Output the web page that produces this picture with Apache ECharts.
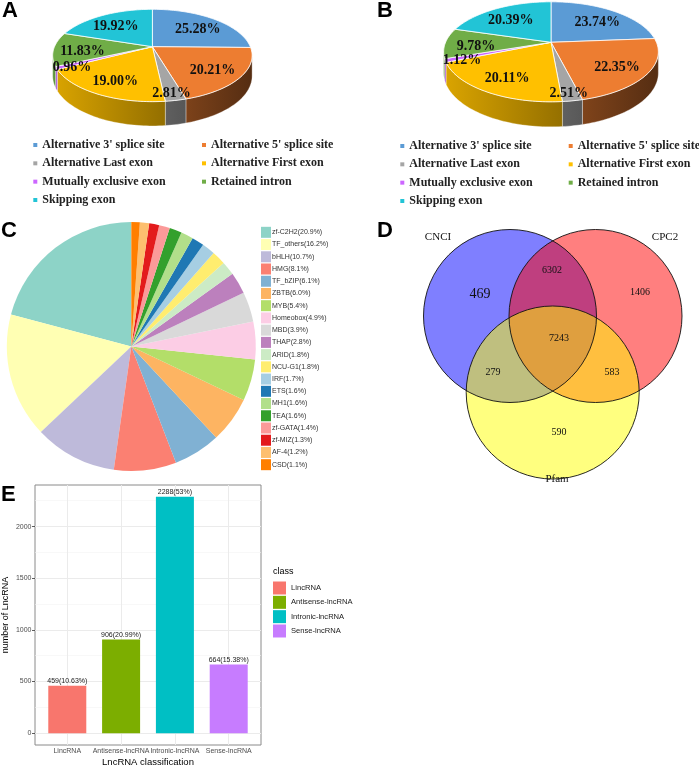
<!DOCTYPE html>
<html><head><meta charset="utf-8">
<script src="https://cdn.jsdelivr.net/npm/echarts@6/dist/echarts.min.js"></script>
<style>html,body{margin:0;padding:0;background:#fff}#c{width:699px;height:769px}</style>
</head><body><div id="c"></div>
<script>
// ---------------- data ----------------
const spliceTypes = ["Alternative 3' splice site","Alternative 5' splice site","Alternative Last exon","Alternative First exon","Mutually exclusive exon","Retained intron","Skipping exon"];
const pieAValues = [25.28, 20.21, 2.81, 19.00, 0.96, 11.83, 19.92];
const pieBValues = [23.74, 22.35, 2.51, 20.11, 1.12, 9.78, 20.39];

const tfFamilies = ['zf-C2H2','TF_others','bHLH','HMG','TF_bZIP','ZBTB','MYB','Homeobox','MBD','THAP','ARID','NCU-G1','IRF','ETS','MH1','TEA','zf-GATA','zf-MIZ','AF-4','CSD'];
const tfPercents = [20.9,16.2,10.7,8.1,6.1,6.0,5.4,4.9,3.9,2.8,1.8,1.8,1.7,1.6,1.6,1.6,1.4,1.3,1.2,1.1];

const vennSets = ['CNCI','CPC2','Pfam'];
const vennRegions = ['CNCI','CNCI&CPC2','CPC2','CNCI&CPC2&Pfam','CNCI&Pfam','CPC2&Pfam','Pfam'];
const vennCounts = [469, 6302, 1406, 7243, 279, 583, 590];

const lncClasses = ['LincRNA','Antisense-lncRNA','Intronic-lncRNA','Sense-lncRNA'];
const lncCounts = [459, 906, 2288, 664];
const lncPercents = ['10.63%','20.99%','53%','15.38%'];
const lncYTicks = [0, 500, 1000, 1500, 2000];
const lncYMinor = [250, 750, 1250, 1750, 2250];
const lncXPos = [1, 2, 3, 4];

// ---------------- styles / layout ----------------
const pieColors = ['#5B9BD5','#ED7D31','#A5A5A5','#FFC000','#CC66FF','#70AD47','#22C4D6'];
const tfColors = ['#8DD3C7','#FFFFB3','#BEBADA','#FB8072','#80B1D3','#FDB462','#B3DE69','#FCCDE5','#D9D9D9','#BC80BD','#CCEBC5','#FFED6F','#A6CEE3','#1F78B4','#B2DF8A','#33A02C','#FB9A99','#E31A1C','#FDBF6F','#FF7F00'];
const lncColors = ['#F8766D','#7CAE00','#00BFC4','#C77CFF'];
const geoA = {cx:152.4, yc:46.7, rx:97.9, ry:44.5, k:0.19, d:19.7};
const geoB = {cx:551, yc:42.3, rx:105.4, ry:48.2, k:0.19, d:20.3};
const vennLayout = {
  centers: [[510,316],[595.5,316],[552.7,392.5]], r: 86.5,
  fills: ['rgba(0,0,255,0.5)','rgba(255,0,0,0.5)','rgba(255,255,0,0.5)'],
  nameAt: [[438,237],[665,237],[557,479]],
  regionAt: [[480,294],[552,270],[640,292],[559,338],[493,372],[612,372],[559,432]],
  regionFont: [14,10,10,10,10,10,10]
};

function shade(hex, f){
  const n = parseInt(hex.slice(1),16);
  const r=(n>>16)&255, g=(n>>8)&255, b=n&255;
  return 'rgb('+Math.round(r*f)+','+Math.round(g*f)+','+Math.round(b*f)+')';
}
function proj(g, th, f, dy){
  const t = th*Math.PI/180, u = f*Math.sin(t), v = f*Math.cos(t), w = 1 + g.k*v;
  return [g.cx + g.rx*u/w, g.yc - g.ry*v/w + (dy||0)/w];
}
function arcPts(g, a, b, f, dy){
  const n = Math.max(2, Math.ceil((b-a)/1.5));
  const pts = [];
  for (let j=0;j<=n;j++) pts.push(proj(g, a+(b-a)*j/n, f, dy));
  return pts;
}
function pie3D(values, g, tag){
  const total = values.reduce((s,x)=>s+x,0);
  const vis0 = Math.acos(-g.k)*180/Math.PI, vis1 = 360 - vis0;
  return values.map((val,i)=>{
    const before = values.slice(0,i).reduce((s,x)=>s+x,0);
    const col = pieColors[i];
    return {
      type:'custom', id: tag+i, name: spliceTypes[i], coordinateSystem:'none', silent:true,
      itemStyle:{color:col}, data:[val],
      renderItem:function(params, api){
        const v = api.value(0);
        const a0 = before/total*360, a1 = (before+v)/total*360;
        const children = [];
        const s = Math.max(a0, vis0), e = Math.min(a1, vis1);
        if (s < e){
          const top = arcPts(g, s, e, 1, 0), bot = arcPts(g, s, e, 1, g.d).reverse();
          children.push({type:'polygon', z2:0, shape:{points: top.concat(bot)},
            style:{fill:{type:'linear', x:g.cx-g.rx*1.02, y:0, x2:g.cx+g.rx*1.02, y2:0, global:true,
              colorStops:[{offset:0,color:shade(col,0.86)},{offset:1,color:shade(col,0.36)}]},
              stroke:'rgba(255,255,255,0.55)', lineWidth:0.6}});
        }
        const face = [proj(g,0,0,0)].concat(arcPts(g, a0, a1, 1, 0));
        children.push({type:'polygon', z2:1, shape:{points:face}, style:{fill:col, stroke:'#ffffff', lineWidth:0.8}});
        const mid = (a0+a1)/2, lp = proj(g, mid, v/total < 0.05 ? 0.85 : 0.71, 0);
        children.push({type:'text', z2:100, style:{text: v.toFixed(2)+'%', x: lp[0], y: lp[1]+3,
          align:'center', verticalAlign:'middle', font:'bold 14px "Liberation Serif"', fill:'#111'}});
        return {type:'group', children};
      }
    };
  });
}

const spliceLegendStyle = {orient:'vertical', padding:0, icon:'rect', itemWidth:4, itemHeight:4, itemGap:0.33,
  selectedMode:false, itemStyle:{borderWidth:0},
  textStyle:{fontFamily:'Liberation Serif', fontWeight:'bold', fontSize:12, color:'#222', lineHeight:18}};
const col1 = [0,2,4,6].map(i=>spliceTypes[i]), col2 = [1,3,5].map(i=>spliceTypes[i]);

const chart = echarts.init(document.getElementById('c'), null, {renderer:'canvas', width:699, height:769});

const letterStyle = {fontFamily:'Liberation Sans', fontWeight:'bold', fontSize:22, color:'#000'};
const option = {
  animation:false,
  backgroundColor:'#ffffff',
  title:[
    {text:'A', left:2, top:0, padding:0, textStyle:letterStyle},
    {text:'B', left:377, top:0, padding:0, textStyle:letterStyle},
    {text:'C', left:1, top:219.5, padding:0, textStyle:letterStyle},
    {text:'D', left:377, top:219.5, padding:0, textStyle:letterStyle},
    {text:'E', left:1, top:483.5, padding:0, textStyle:letterStyle},
    {text:'class', left:273, top:567, padding:0, textStyle:{fontFamily:'Liberation Sans', fontWeight:'normal', fontSize:9, color:'#000'}}
  ],
  legend:[
    Object.assign({data:col1, left:33.3, top:136}, spliceLegendStyle),
    Object.assign({data:col2, left:202, top:136}, spliceLegendStyle),
    Object.assign({data:col1, left:400.3, top:137}, spliceLegendStyle),
    Object.assign({data:col2, left:568.7, top:137}, spliceLegendStyle),
    {data:tfFamilies, orient:'vertical', left:261, top:226.2, padding:0, icon:'rect', itemWidth:10, itemHeight:11, itemGap:0,
      selectedMode:false, itemStyle:{borderWidth:0},
      formatter:function(name){ const i = tfFamilies.indexOf(name); return name+'('+tfPercents[i].toFixed(1)+'%)'; },
      textStyle:{fontFamily:'Liberation Sans', fontSize:7, color:'#333', lineHeight:12.23, padding:[0,0,0,-4]}},
    {data:lncClasses, orient:'vertical', left:273, top:581.5, padding:0, icon:'rect', itemWidth:13, itemHeight:13, itemGap:1.33,
      selectedMode:false, itemStyle:{borderWidth:0},
      textStyle:{fontFamily:'Liberation Sans', fontSize:7.6, color:'#1a1a1a'}}
  ],
  grid:[{left:35, top:485, width:226, height:260, show:true, borderColor:'#8a8a8a', borderWidth:1, backgroundColor:'#fff', outerBoundsMode:'none', containLabel:false}],
  xAxis:[{type:'value', gridIndex:0, min:0.4, max:4.6,
    axisLine:{show:false}, splitLine:{show:false},
    axisTick:{show:true, customValues:lncXPos, length:3, lineStyle:{color:'#333', width:0.8}},
    axisLabel:{customValues:lncXPos, formatter:function(v){ return lncClasses[Math.round(v)-1]; }, fontSize:7, color:'#4d4d4d', margin:3, hideOverlap:false, fontFamily:'Liberation Sans'},
    name:'LncRNA classification', nameLocation:'middle', nameGap:12,
    nameTextStyle:{fontSize:9.5, color:'#000', fontFamily:'Liberation Sans'}}],
  yAxis:[{type:'value', gridIndex:0, min:-114.4, max:2402.4,
    axisLine:{show:false}, splitLine:{show:false},
    axisTick:{show:true, customValues:lncYTicks, length:3, lineStyle:{color:'#333', width:0.8}},
    axisLabel:{customValues:lncYTicks, formatter:function(v){ return String(v); }, fontSize:7, color:'#4d4d4d', margin:3.5, hideOverlap:false, fontFamily:'Liberation Sans'},
    name:'number of LncRNA', nameLocation:'middle', nameGap:25, nameRotate:90,
    nameTextStyle:{fontSize:9, color:'#000', fontFamily:'Liberation Sans'}}],
  series: [].concat(
    pie3D(pieAValues, geoA, 'a'),
    pie3D(pieBValues, geoB, 'b'),
    [{type:'pie', name:'TF families', center:[131.3,346.5], radius:124.5, startAngle:90, clockwise:false, silent:true,
      label:{show:false}, labelLine:{show:false}, itemStyle:{borderWidth:0},
      data: tfFamilies.map((n,i)=>({name:n, value:tfPercents[i], itemStyle:{color:tfColors[i]}}))}],
    [{type:'custom', name:'venn-sets', coordinateSystem:'none', silent:true, data: vennSets.map((s,i)=>({name:s, value:i})),
      renderItem:function(params, api){
        const i = params.dataIndex, c = vennLayout.centers[i], r = vennLayout.r, na = vennLayout.nameAt[i];
        return {type:'group', children:[
          {type:'circle', z2:i, shape:{cx:c[0], cy:c[1], r:r}, style:{fill:vennLayout.fills[i]}},
          {type:'circle', z2:10, shape:{cx:c[0], cy:c[1], r:r}, style:{fill:'none', stroke:'#111', lineWidth:0.9}},
          {type:'text', z2:20, style:{text:vennSets[i], x:na[0], y:na[1], align:'center', verticalAlign:'middle', font:'11px "Liberation Serif"', fill:'#111'}}
        ]};
      }},
     {type:'custom', name:'venn-counts', coordinateSystem:'none', silent:true, z:3, data: vennCounts.map((v,i)=>({name:vennRegions[i], value:v})),
      renderItem:function(params, api){
        const i = params.dataIndex, p = vennLayout.regionAt[i];
        return {type:'text', z2:30, style:{text:String(api.value(0)), x:p[0], y:p[1], align:'center', verticalAlign:'middle',
          font: vennLayout.regionFont[i]+'px "Liberation Serif"', fill:'#111'}};
      }}],
    [{type:'line', name:'grid-lines', xAxisIndex:0, yAxisIndex:0, data:[], z:1, silent:true, symbol:'none',
      markLine:{z:1, symbol:'none', silent:true, label:{show:false}, animation:false,
        data: [].concat(
          lncYMinor.map(y=>({yAxis:y, lineStyle:{color:'#F3F3F3', width:0.6, type:'solid'}})),
          lncYTicks.map(y=>({yAxis:y, lineStyle:{color:'#EBEBEB', width:1, type:'solid'}})),
          lncXPos.map(x=>({xAxis:x, lineStyle:{color:'#EBEBEB', width:1, type:'solid'}}))
        )}}],
    lncClasses.map((n,i)=>({type:'bar', name:n, xAxisIndex:0, yAxisIndex:0, z:3, silent:true,
      data:[[lncXPos[i], lncCounts[i]]], barWidth:38, barGap:'-100%', itemStyle:{color:lncColors[i]},
      label:{show:true, position:'top', distance:1, fontSize:7, color:'#222', fontFamily:'Liberation Sans',
        formatter: lncCounts[i]+'('+lncPercents[i]+')'}}))
  )
};
chart.setOption(option);
</script></body></html>
